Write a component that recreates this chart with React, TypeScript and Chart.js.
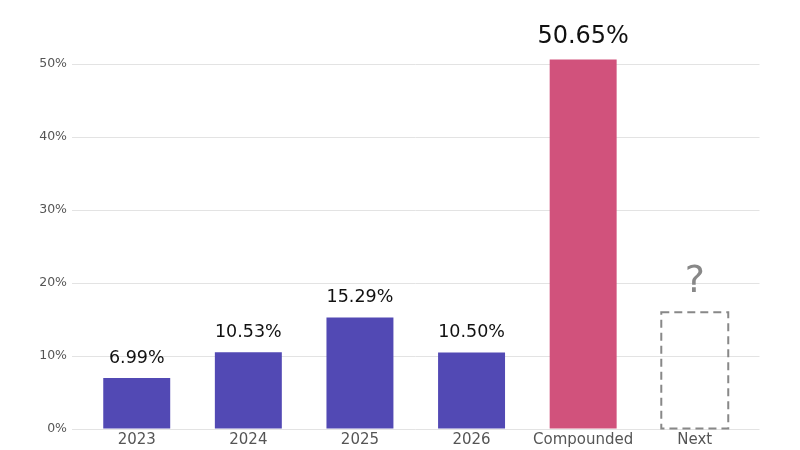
import { useEffect, useRef } from "react"
import { Chart, registerables } from "chart.js"

Chart.register(...registerables)

// Values
const categories = ["2023", "2024", "2025", "2026", "Compounded", "Next"]
const growth = [6.99, 10.53, 15.29, 10.5, 50.65, 16]
const valueLabels = ["6.99%", "10.53%", "15.29%", "10.50%", "50.65%", "?"]
const yTicks = [0, 10, 20, 30, 40, 50]

const FONT = "'DejaVu Sans', Verdana, sans-serif"
const PURPLE = "#5249B4"
const PINK = "#D1527C"
const GREY = "#888888"
const COMPOUNDED = 4
const NEXT = 5

const barLabels = {
  id: "barLabels",
  afterDatasetsDraw(chart: Chart) {
    const ctx = chart.ctx
    const meta = chart.getDatasetMeta(0)
    ctx.save()
    meta.data.forEach((bar: any, i: number) => {
      const { x, y, base, width } = bar.getProps(["x", "y", "base", "width"], true)
      if (i === NEXT) {
        // dashed placeholder outline
        ctx.strokeStyle = GREY
        ctx.lineWidth = 2
        ctx.setLineDash([8, 5])
        ctx.strokeRect(x - width / 2, y, width, base - y)
        ctx.setLineDash([])
      }
      let size = 17.5
      let gap = 15
      let color = "#111111"
      if (i === COMPOUNDED) {
        size = 24
        gap = 16
      }
      if (i === NEXT) {
        size = 38
        gap = 20
        color = GREY
      }
      ctx.font = `${size}px ${FONT}`
      ctx.fillStyle = color
      ctx.textAlign = "center"
      ctx.textBaseline = "alphabetic"
      ctx.fillText(valueLabels[i], x, y - gap)
    })
    ctx.restore()
  },
}

export default function App() {
  const chartRef = useRef<HTMLCanvasElement>(null)
  const chartInstance = useRef<Chart | null>(null)

  useEffect(() => {
    if (!chartRef.current) return
    if (chartInstance.current) chartInstance.current.destroy()

    chartInstance.current = new Chart(chartRef.current, {
      type: "bar",
      data: {
        datasets: [
          {
            data: growth.map((v, i) => ({ x: i, y: v })),
            backgroundColor: growth.map((_, i) =>
              i === NEXT ? "rgba(0,0,0,0)" : i === COMPOUNDED ? PINK : PURPLE
            ),
            borderWidth: 0,
            barPercentage: 0.6,
            categoryPercentage: 1,
          },
        ],
      },
      options: {
        animation: false,
        responsive: true,
        maintainAspectRatio: false,
        layout: { padding: { top: 41, right: 40.5, left: 0, bottom: 0 } },
        scales: {
          x: {
            type: "linear",
            offset: false,
            min: -0.58,
            max: 5.58,
            afterBuildTicks: (scale: any) => {
              scale.ticks = categories.map((_, i) => ({ value: i }))
            },
            afterFit: (scale: any) => {
              scale.height = 21
            },
            grid: { display: false, drawTicks: false },
            border: { display: false },
            ticks: {
              padding: 2,
              color: "#555555",
              font: { family: FONT, size: 15 },
              maxRotation: 0,
              autoSkip: false,
              callback: (v: any) => categories[Math.round(Number(v))] ?? "",
            },
          },
          y: {
            min: 0,
            max: 53.18,
            afterBuildTicks: (scale: any) => {
              scale.ticks = yTicks.map((v) => ({ value: v }))
            },
            afterFit: (scale: any) => {
              scale.width = 72
            },
            grid: { color: "#e3e3e3", lineWidth: 1, drawTicks: false },
            border: { display: false },
            ticks: {
              padding: 5,
              color: "#555555",
              font: { family: FONT, size: 12.5 },
              callback: (v: any) => `${v}%`,
            },
          },
        },
        plugins: {
          legend: { display: false },
          tooltip: { enabled: false },
        },
      },
      plugins: [barLabels],
    })

    return () => {
      if (chartInstance.current) {
        chartInstance.current.destroy()
        chartInstance.current = null
      }
    }
  }, [])

  return (
    <div style={{ position: "fixed", left: 0, top: 0, width: 800, height: 450, background: "#fff" }}>
      <canvas ref={chartRef} />
    </div>
  )
}
